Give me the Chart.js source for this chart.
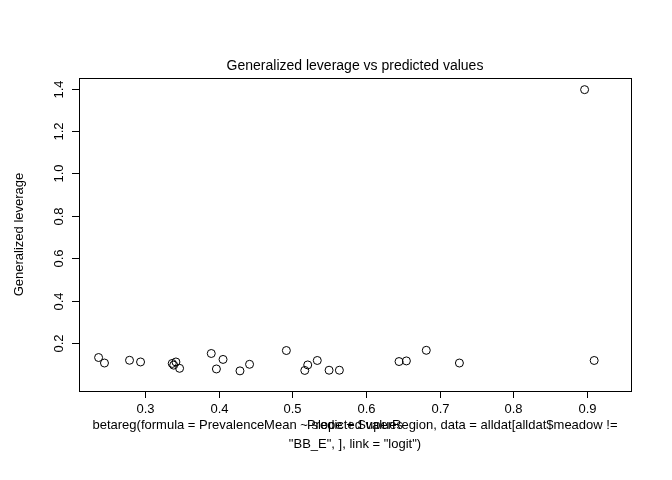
<!DOCTYPE html>
<html><head><script src="https://cdn.jsdelivr.net/npm/chart.js@4"></script>
<style>body{margin:0;background:#fff}</style></head>
<body><canvas id="c" width="672" height="480" style="width:672px;height:480px"></canvas>
<script>
const predicted=[0.237,0.245,0.279,0.294,0.337,0.339,0.342,0.347,0.390,0.406,0.397,0.429,0.442,0.492,0.521,0.517,0.534,0.550,0.564,0.645,0.655,0.682,0.727,0.910,0.897];
const leverage=[0.131,0.105,0.118,0.110,0.103,0.095,0.110,0.080,0.150,0.122,0.077,0.068,0.099,0.164,0.096,0.070,0.117,0.071,0.071,0.112,0.115,0.165,0.105,0.117,1.395];
const xTicks=[0.3,0.4,0.5,0.6,0.7,0.8,0.9];
const yTicks=[0.2,0.4,0.6,0.8,1.0,1.2,1.4];
const F='"Liberation Sans", Arial, sans-serif';
const deco={id:'deco',afterDraw(ch){
 const c=ch.ctx,a=ch.chartArea,x=ch.scales.x,y=ch.scales.y;
 c.save();c.strokeStyle='#000';c.lineWidth=1;
 c.strokeRect(Math.round(a.left)+0.5,Math.round(a.top)+0.5,Math.round(a.right-a.left),Math.round(a.bottom-a.top));
 c.fillStyle='#000';c.font='13px '+F;
 c.textAlign='center';c.textBaseline='top';
 xTicks.forEach(v=>{const p=Math.round(x.getPixelForValue(v))+0.5;c.beginPath();c.moveTo(p,a.bottom);c.lineTo(p,a.bottom+7);c.stroke();c.fillText(v.toFixed(1),p,a.bottom+12);});
 yTicks.forEach(v=>{const p=Math.round(y.getPixelForValue(v))+0.5;c.beginPath();c.moveTo(a.left,p);c.lineTo(a.left-7,p);c.stroke();
  c.save();c.translate(a.left-13,p);c.rotate(-Math.PI/2);c.textBaseline='bottom';c.fillText(v.toFixed(1),0,0);c.restore();});
 c.save();c.translate(19,(a.top+a.bottom)/2);c.rotate(-Math.PI/2);c.textBaseline='middle';c.fillText('Generalized leverage',0,0);c.restore();
 c.font='14px '+F;c.textBaseline='middle';c.fillText('Generalized leverage vs predicted values',355,66);
 c.font='13px '+F;c.fillText('Predicted values',355,425);
 c.fillText('betareg(formula = PrevalenceMean ~ slope + SuperRegion, data = alldat[alldat$meadow !=',355,425);
 c.fillText('"BB_E", ], link = "logit")',355,444);
 c.restore();}};
new Chart(document.getElementById('c'),{type:'scatter',
 data:{datasets:[{data:predicted.map((v,i)=>({x:v,y:leverage[i]})),pointStyle:'circle',pointRadius:4,pointBorderWidth:1,borderColor:'#000',backgroundColor:'rgba(0,0,0,0)'}]},
 options:{responsive:false,devicePixelRatio:1,animation:false,plugins:{legend:{display:false},tooltip:{enabled:false}},
  layout:{padding:{top:78,right:41,left:0,bottom:0}},
  scales:{x:{type:'linear',min:0.2104,max:0.960,ticks:{display:false},grid:{display:false},border:{display:false},afterFit(s){s.height=89;}},
   y:{type:'linear',min:-0.027,max:1.45,ticks:{display:false},grid:{display:false},border:{display:false},afterFit(s){s.width=79;}}}},
 plugins:[deco]});
</script></body></html>
